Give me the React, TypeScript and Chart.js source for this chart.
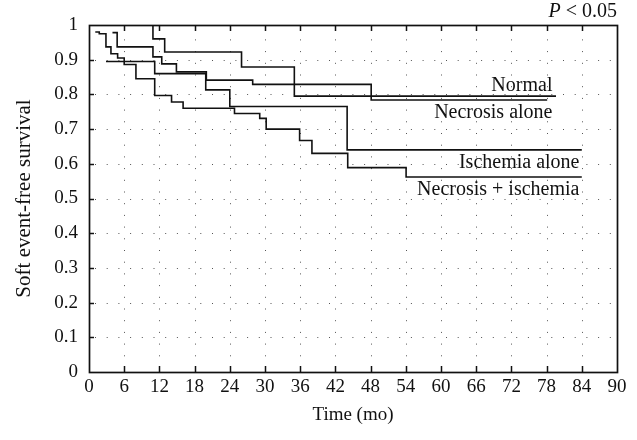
import { useEffect, useRef } from "react";
import { Chart, registerables } from "chart.js";

Chart.register(...registerables);

// ---- data (months, survival) ----
const normalTimes = [6.3, 10.9, 12.9, 26.0, 35.0, 79.6];
const normalSurv = [1.0, 0.96, 0.922, 0.879, 0.795, 0.795];

const necrosisTimes = [4.0, 4.8, 10.9, 12.4, 14.9, 20.0, 27.9, 48.1, 78.1];
const necrosisSurv = [0.978, 0.937, 0.908, 0.888, 0.865, 0.841, 0.829, 0.784, 0.784];

const ischemiaTimes = [2.9, 11.2, 19.9, 24.0, 44.0, 84.0];
const ischemiaSurv = [0.895, 0.86, 0.813, 0.765, 0.64, 0.64];

const bothTimes = [1.07, 1.75, 2.89, 3.74, 4.88, 6.0, 8.0, 11.2, 14.07, 16.04, 24.8, 29.1, 30.2, 35.9, 38.0, 44.1, 54.05, 84.0];
const bothSurv = [0.98, 0.975, 0.937, 0.917, 0.905, 0.886, 0.845, 0.797, 0.778, 0.76, 0.745, 0.731, 0.70, 0.667, 0.63, 0.589, 0.562, 0.562];

const seriesNames = ["Normal", "Necrosis alone", "Ischemia alone", "Necrosis + ischemia"];

const xTickValues = [0, 6, 12, 18, 24, 30, 36, 42, 48, 54, 60, 66, 72, 78, 84, 90];
const yTickValues = [0, 0.1, 0.2, 0.3, 0.4, 0.5, 0.6, 0.7, 0.8, 0.9, 1];

const pText = "< 0.05";

// label anchors (data space: right edge x, middle y)
const labelAnchors = [
  { x: 79.0, y: 0.826 },
  { x: 79.0, y: 0.746 },
  { x: 83.6, y: 0.603 },
  { x: 83.6, y: 0.524 },
];

const FONT = "'Liberation Serif', 'Times New Roman', serif";

const toPoints = (t: number[], v: number[]) => t.map((tt, i) => ({ x: tt, y: v[i] }));

const framePlugin = {
  id: "frame",
  beforeDatasetsDraw(chart: any) {
    const { ctx, chartArea: a, scales } = chart;
    const x = scales.x;
    const y = scales.y;
    ctx.save();
    // dotted grid
    ctx.strokeStyle = "#555";
    ctx.lineWidth = 1;
    ctx.setLineDash([1, 10.7]);
    xTickValues.slice(1, -1).forEach((t) => {
      const px = Math.round(x.getPixelForValue(t)) + 0.5;
      ctx.beginPath();
      ctx.moveTo(px, a.bottom - 4);
      ctx.lineTo(px, a.top + 6);
      ctx.stroke();
    });
    yTickValues.slice(1, -1).forEach((v) => {
      const py = Math.round(y.getPixelForValue(v)) + 0.5;
      ctx.beginPath();
      ctx.moveTo(a.left + 6, py);
      ctx.lineTo(a.right - 4, py);
      ctx.stroke();
    });
    ctx.setLineDash([]);
    // inward ticks
    ctx.strokeStyle = "#111";
    ctx.lineWidth = 1.5;
    xTickValues.slice(1, -1).forEach((t) => {
      const px = Math.round(x.getPixelForValue(t)) + 0.5;
      ctx.beginPath();
      ctx.moveTo(px, a.bottom);
      ctx.lineTo(px, a.bottom - 6);
      ctx.moveTo(px, a.top);
      ctx.lineTo(px, a.top + 6);
      ctx.stroke();
    });
    yTickValues.slice(1, -1).forEach((v) => {
      const py = Math.round(y.getPixelForValue(v)) + 0.5;
      ctx.beginPath();
      ctx.moveTo(a.left, py);
      ctx.lineTo(a.left + 5, py);
      ctx.stroke();
    });
    // frame
    ctx.strokeStyle = "#111";
    ctx.lineWidth = 1.7;
    ctx.strokeRect(Math.round(a.left) + 0.5, Math.round(a.top) + 0.5, Math.round(a.width), Math.round(a.height));
    ctx.restore();
  },
  afterDraw(chart: any) {
    const { ctx, chartArea: a, scales } = chart;
    const x = scales.x;
    const y = scales.y;
    ctx.save();
    ctx.fillStyle = "#111";
    ctx.textBaseline = "middle";
    ctx.textAlign = "right";
    ctx.font = `20px ${FONT}`;
    seriesNames.forEach((name, i) => {
      const an = labelAnchors[i];
      ctx.fillText(name, x.getPixelForValue(an.x), y.getPixelForValue(an.y));
    });
    // P < 0.05
    const rest = " " + pText;
    const restW = ctx.measureText(rest).width;
    const right = a.right;
    const ty = a.top - 13;
    ctx.fillText(rest, right, ty);
    ctx.font = `italic 20px ${FONT}`;
    ctx.fillText("P", right - restW, ty);
    ctx.restore();
  },
};

export default function App() {
  const ref = useRef<HTMLCanvasElement | null>(null);

  useEffect(() => {
    if (!ref.current) return;
    const mk = (t: number[], v: number[]) => ({
      data: toPoints(t, v),
      borderColor: "#111",
      borderWidth: 1.6,
      pointRadius: 0,
      stepped: true as const,
      fill: false,
    });
    const chart = new Chart(ref.current, {
      type: "line",
      data: {
        datasets: [
          { label: seriesNames[0], ...mk(normalTimes, normalSurv) },
          { label: seriesNames[1], ...mk(necrosisTimes, necrosisSurv) },
          { label: seriesNames[2], ...mk(ischemiaTimes, ischemiaSurv) },
          { label: seriesNames[3], ...mk(bothTimes, bothSurv) },
        ],
      },
      options: {
        responsive: false,
        animation: false,
        layout: { padding: { left: 0, top: 25, right: 20, bottom: 0 } },
        plugins: { legend: { display: false }, tooltip: { enabled: false } },
        scales: {
          x: {
            type: "linear",
            min: 0,
            max: 90,
            afterBuildTicks: (s: any) => {
              s.ticks = xTickValues.map((v) => ({ value: v }));
            },
            afterFit: (s: any) => {
              s.height = 68;
            },
            grid: { display: false, drawTicks: false },
            border: { display: false },
            ticks: {
              color: "#111",
              font: { family: FONT, size: 19 },
              padding: 4,
              maxRotation: 0,
              autoSkip: false,
            },
            title: {
              display: true,
              text: "Time (mo)",
              color: "#111",
              font: { family: FONT, size: 19 },
              padding: { top: 0, bottom: 14 },
            },
          },
          y: {
            type: "linear",
            min: 0,
            max: 1,
            afterBuildTicks: (s: any) => {
              s.ticks = yTickValues.map((v) => ({ value: v }));
            },
            afterFit: (s: any) => {
              s.width = 89;
            },
            grid: { display: false, drawTicks: false },
            border: { display: false },
            ticks: {
              color: "#111",
              font: { family: FONT, size: 19 },
              padding: 11,
              autoSkip: false,
              callback: (v: any) => String(Number(Number(v).toFixed(1))),
            },
            title: {
              display: true,
              text: "Soft event-free survival",
              color: "#111",
              font: { family: FONT, size: 21 },
              padding: { top: 12, bottom: 0 },
            },
          },
        },
      },
      plugins: [framePlugin],
    });
    return () => chart.destroy();
  }, []);

  return (
    <div style={{ position: "absolute", left: 0, top: 0, width: 637, height: 440, background: "#fff" }}>
      <canvas ref={ref} width={637} height={440} style={{ display: "block" }} />
    </div>
  );
}
